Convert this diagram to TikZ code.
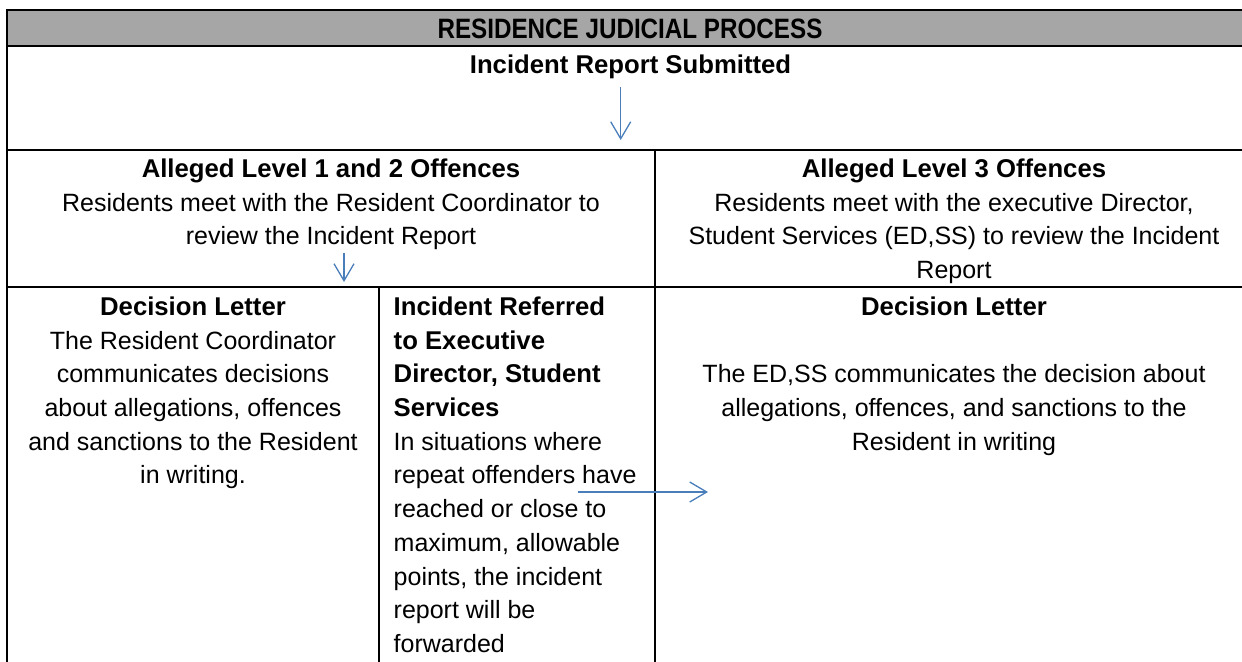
\documentclass[tikz,border=0pt]{standalone}
\usepackage{fontspec}
\setmainfont{Liberation Sans}
\newfontfamily\hdrfont[FakeStretch=0.865]{Liberation Sans}
\usetikzlibrary{arrows.meta}
\definecolor{hdrgray}{HTML}{A6A6A6}
\definecolor{arrowblue}{HTML}{4A7EBB}
\newcommand\celltitle[1]{{\fontsize{12.85}{16.85}\selectfont\bfseries #1}}
\begin{document}
\begin{tikzpicture}[x=0.5pt,y=-0.5pt,
  rule/.style={line width=1pt, black},
  cell/.style={inner sep=0pt, font=\fontsize{12.5}{16.85}\selectfont},
  flow/.style={arrowblue, line width=0.65pt, -{Straight Barb[length=8.5pt,width=10pt]}}
]
\useasboundingbox (0,0) rectangle (1242,661);
\clip (0,0) rectangle (1242,661);
% header band
\fill[hdrgray] (6.7,10) rectangle (1253,45.7);
% table rules
\draw[rule] (6.7,680) -- (6.7,10) -- (1253,10) -- (1253,680);
\draw[rule] (6.7,45.7) -- (1253,45.7);
\draw[rule] (6.7,150) -- (1253,150);
\draw[rule] (6.7,287) -- (1253,287);
\draw[rule] (655,150) -- (655,680);
\draw[rule] (379,287) -- (379,680);
% texts
\node[cell, anchor=base] (hdr) at (630,38.3)
  {\fontsize{14}{16}\selectfont\hdrfont\bfseries RESIDENCE JUDICIAL PROCESS};
\node[cell, anchor=base] (irs) at (630.5,73) {\celltitle{Incident Report Submitted}};
\node[cell, anchor=north, align=center] (lvl12) at (331,153.4)
  {\strut\celltitle{Alleged Level 1 and 2 Offences}\\
   Residents meet with the Resident Coordinator to\\
   review the Incident Report};
\node[cell, anchor=north, align=center] (lvl3) at (954,153.4)
  {\strut\celltitle{Alleged Level 3 Offences}\\
   Residents meet with the executive Director,\\
   Student Services (ED,SS) to review the Incident\\
   Report};
\node[cell, anchor=north, align=center] (dlleft) at (193,291.4)
  {\strut\celltitle{Decision Letter}\\
   The Resident Coordinator\\
   communicates decisions\\
   about allegations, offences\\
   and sanctions to the Resident\\
   in writing.};
\node[cell, anchor=north west, align=left] (refer) at (393.3,291.4)
  {\strut\celltitle{Incident Referred}\\
   \celltitle{to Executive}\\
   \celltitle{Director, Student}\\
   \celltitle{Services}\\
   In situations where\\
   repeat offenders have\\
   reached or close to\\
   maximum, allowable\\
   points, the incident\\
   report will be\\
   forwarded};
\node[cell, anchor=north, align=center] (dlright) at (954,291.4)
  {\strut\celltitle{Decision Letter}\\
   \strut\\
   The ED,SS communicates the decision about\\
   allegations, offences, and sanctions to the\\
   Resident in writing};
% arrows
\coordinate (a1s) at (620.7,87);
\coordinate (a1e) at (620.7,140);
\coordinate (a2s) at (344,253);
\coordinate (a2e) at (344,282);
\coordinate (a3s) at (578,492);
\coordinate (a3e) at (708,492);
\draw[flow] (a1s) -- (a1e);
\draw[flow] (a2s) -- (a2e);
\draw[flow] (a3s) -- (a3e);
\end{tikzpicture}
\end{document}
